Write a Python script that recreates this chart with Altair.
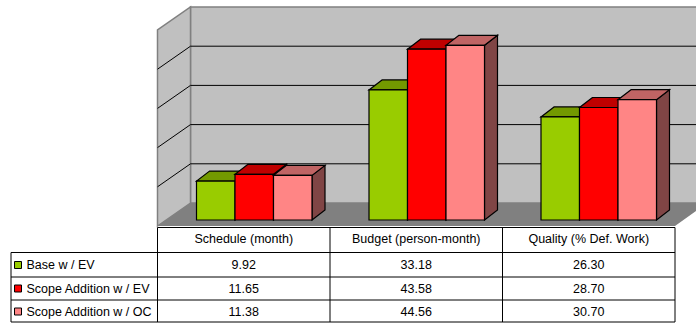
import altair as alt
import pandas as pd

categories = ["Schedule (month)", "Budget (person-month)", "Quality (% Def. Work)"]
series = ["Base w / EV", "Scope Addition w / EV", "Scope Addition w / OC"]
values = {
    "Base w / EV": [9.92, 33.18, 26.30],
    "Scope Addition w / EV": [11.65, 43.58, 28.70],
    "Scope Addition w / OC": [11.38, 44.56, 30.70],
}
value_labels = {
    "Base w / EV": ["9.92", "33.18", "26.30"],
    "Scope Addition w / EV": ["11.65", "43.58", "28.70"],
    "Scope Addition w / OC": ["11.38", "44.56", "30.70"],
}
front_colors = ["#99cc00", "#ff0000", "#ff8585"]
top_colors = ["#739900", "#bf0000", "#c06464"]
side_colors = ["#567300", "#800000", "#804545"]
grid_values = [10, 20, 30, 40]

W, H = 696, 323
PX_PER_UNIT = 3.92
BASE_PX = 220            # pixel row of value 0 on the bars' front plane
BAR_W = 38.5
GROUP_LEFT = [196.5, 369, 541]
BAR_DX, BAR_DY = 13, 10   # oblique depth of a bar
WALL_L, WALL_R = 190.5, 696
FRONT_L, FRONT_R = 157.5, 675
WALL_BASE, FLOOR_FRONT = 203, 226
TOP_VALUE = 50


def yv(px):
    """Value on the y scale that lands on a given pixel row."""
    return (BASE_PX - px) / PX_PER_UNIT


xs = alt.Scale(domain=[0, W], range=[0, W], nice=False, zero=False)
ys = alt.Scale(domain=[yv(H), yv(0)], range=[H, 0], nice=False, zero=False)
X = lambda f="x": alt.X(f"{f}:Q", scale=xs, axis=None)
Y = lambda f="y": alt.Y(f"{f}:Q", scale=ys, axis=None)
X2 = alt.X2("x2:Q")
Y2 = alt.Y2("y2:Q")

layers = []

# Back wall
wall = pd.DataFrame([{"x": WALL_L, "x2": WALL_R + 4, "y": yv(WALL_BASE), "y2": yv(WALL_BASE - TOP_VALUE * PX_PER_UNIT)}])
layers.append(alt.Chart(wall).mark_rect(fill="#c0c0c0", stroke="#808080", strokeWidth=1.5).encode(x=X(), x2=X2, y=Y(), y2=Y2))

# Left wall: a parallelogram running from the front edge back to the wall
left = pd.DataFrame([
    {"x": FRONT_L, "y": yv(FLOOR_FRONT), "y2": yv(FLOOR_FRONT - TOP_VALUE * PX_PER_UNIT)},
    {"x": WALL_L, "y": yv(WALL_BASE), "y2": yv(WALL_BASE - TOP_VALUE * PX_PER_UNIT)},
])
layers.append(alt.Chart(left).mark_area(fill="#c0c0c0", stroke="#808080", strokeWidth=1.5).encode(x=X(), y=Y(), y2=Y2))

# Floor, cut off by the right edge of the chart
floor_slope = (WALL_L - FRONT_L) / (FLOOR_FRONT - WALL_BASE)
floor = pd.DataFrame([
    {"y": yv(WALL_BASE), "x": WALL_L, "x2": 700},
    {"y": yv(FLOOR_FRONT - 15), "x": FRONT_L + 15 * floor_slope, "x2": 696},
    {"y": yv(FLOOR_FRONT), "x": FRONT_L, "x2": FRONT_R},
])
layers.append(alt.Chart(floor).mark_area(orient="horizontal", fill="#808080").encode(y=Y(), x=X(), x2=X2))

# Gridlines on the back wall and their continuation down the left wall
grid_back = pd.DataFrame([{"x": WALL_L, "x2": W, "y": yv(WALL_BASE - v * PX_PER_UNIT)} for v in grid_values])
layers.append(alt.Chart(grid_back).mark_rule(color="#000000", strokeWidth=1).encode(x=X(), x2=X2, y=Y()))
grid_left = pd.DataFrame([
    row
    for v in grid_values
    for row in (
        {"g": v, "x": FRONT_L, "y": yv(FLOOR_FRONT - v * PX_PER_UNIT)},
        {"g": v, "x": WALL_L, "y": yv(WALL_BASE - v * PX_PER_UNIT)},
    )
])
layers.append(alt.Chart(grid_left).mark_line(color="#000000", strokeWidth=1).encode(x=X(), y=Y(), detail="g:N"))

# Bars, drawn series by series so that each one overlaps the previous
depth = BAR_DY / PX_PER_UNIT
for si, name in enumerate(series):
    fronts, sides, tops = [], [], []
    for ci, v in enumerate(values[name]):
        x0 = GROUP_LEFT[ci] + si * BAR_W
        x1 = x0 + BAR_W
        fronts.append({"x": x0, "x2": x1, "y": 0, "y2": v})
        sides += [
            {"b": ci, "x": x1, "y": 0, "y2": v},
            {"b": ci, "x": x1 + BAR_DX, "y": depth, "y2": v + depth},
        ]
        tops += [
            {"b": ci, "y": v, "x": x0, "x2": x1},
            {"b": ci, "y": v + depth, "x": x0 + BAR_DX, "x2": x1 + BAR_DX},
        ]
    outline = dict(stroke="#000000", strokeWidth=1.2)
    layers.append(alt.Chart(pd.DataFrame(sides)).mark_area(fill=side_colors[si], **outline).encode(x=X(), y=Y(), y2=Y2, detail="b:N"))
    layers.append(alt.Chart(pd.DataFrame(tops)).mark_area(orient="horizontal", fill=top_colors[si], **outline).encode(y=Y(), x=X(), x2=X2, detail="b:N"))
    layers.append(alt.Chart(pd.DataFrame(fronts)).mark_rect(fill=front_colors[si], **outline).encode(x=X(), x2=X2, y=Y(), y2=Y2))

# Data table under the plot
TABLE_TOP = 227.5
ROW_LINES = [252.5, 277, 300, 322]
COL_LINES = [157.5, 330, 502.5, 675]
TABLE_LEFT = 11
h_rules = [{"x": COL_LINES[0], "x2": COL_LINES[-1], "y": yv(TABLE_TOP)}]
h_rules += [{"x": TABLE_LEFT, "x2": COL_LINES[-1], "y": yv(p)} for p in ROW_LINES]
layers.append(alt.Chart(pd.DataFrame(h_rules)).mark_rule(color="#000000", strokeWidth=1).encode(x=X(), x2=X2, y=Y()))
v_rules = [{"x": c, "y": yv(TABLE_TOP), "y2": yv(ROW_LINES[-1])} for c in COL_LINES]
v_rules.append({"x": TABLE_LEFT, "y": yv(ROW_LINES[0]), "y2": yv(ROW_LINES[-1])})
layers.append(alt.Chart(pd.DataFrame(v_rules)).mark_rule(color="#000000", strokeWidth=1).encode(x=X(), y=Y(), y2=Y2))

text_style = dict(font="Liberation Sans", fontSize=12.5, color="#000000", baseline="middle")
centers = [(COL_LINES[i] + COL_LINES[i + 1]) / 2 for i in range(3)]
ROW_TEXT = [265, 288.5, 311.5]
cells = [{"x": centers[i], "y": yv(239), "t": c} for i, c in enumerate(categories)]
for r, name in enumerate(series):
    cells += [{"x": centers[i], "y": yv(ROW_TEXT[r]), "t": value_labels[name][i]} for i in range(3)]
layers.append(alt.Chart(pd.DataFrame(cells)).mark_text(align="center", **text_style).encode(x=X(), y=Y(), text="t:N"))

names = pd.DataFrame([{"x": 26.5, "y": yv(ROW_TEXT[r]), "t": n} for r, n in enumerate(series)])
layers.append(alt.Chart(names).mark_text(align="left", **text_style).encode(x=X(), y=Y(), text="t:N"))

keys = pd.DataFrame([
    {"x": 14.5, "x2": 21.5, "y": yv(ROW_TEXT[r] + 3.5), "y2": yv(ROW_TEXT[r] - 3.5), "c": front_colors[r]}
    for r in range(3)
])
layers.append(alt.Chart(keys).mark_rect(stroke="#000000", strokeWidth=1).encode(
    x=X(), x2=X2, y=Y(), y2=Y2, fill=alt.Fill("c:N", scale=None)))

chart = alt.layer(*layers).properties(
    width=W, height=H, padding=0, background="#ffffff", autosize=alt.AutoSizeParams(type="none")
).configure_view(stroke=None)

chart.save("out.html", embed_options={"renderer": "svg", "actions": False})
